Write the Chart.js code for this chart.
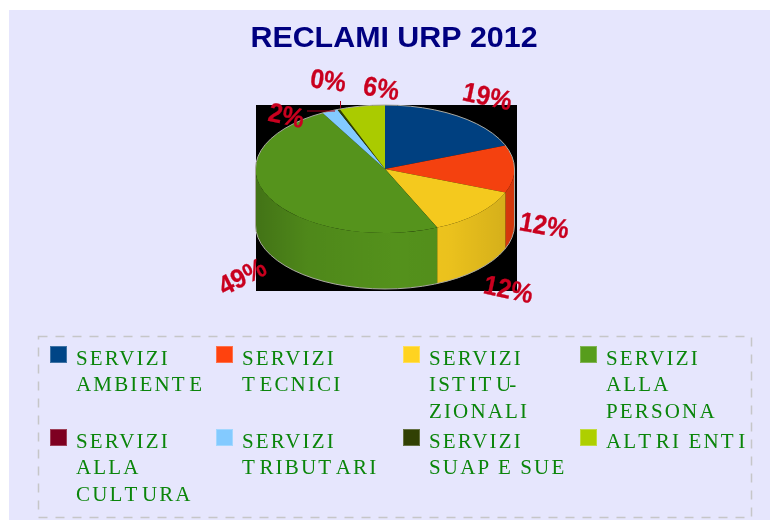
<!DOCTYPE html>
<html>
<head>
<meta charset="utf-8">
<title>RECLAMI URP 2012</title>
<script src="https://cdn.jsdelivr.net/npm/chart.js@4"></script>
<style>
  html, body { margin: 0; height: 100%; background: #fff; overflow: hidden; }
  #stage { position: absolute; left: 9px; top: 10px; width: 761px; height: 510px; background: #e6e6fd; overflow: hidden; }
  #stage canvas { position: absolute; left: 0; top: 0; }
  .swatch { position: absolute; width: 17px; height: 17px; box-sizing: border-box; border: 1px solid rgba(255,255,255,.25); }
  .entry { position: absolute; font: 21px/26.3px "Liberation Serif", serif; letter-spacing: 2.15px; color: #0a850a; white-space: pre; }
  .entry .wide { letter-spacing: 4.6px; }
  .entry .tight { letter-spacing: -2px; }
</style>
</head>
<body>
<div id="stage"><canvas id="pie" width="770" height="510"></canvas></div>
<script>
const titleText = "RECLAMI URP 2012";

const categories = [
  ["SERVIZI", "AMBIENTE"],
  ["SERVIZI", "TECNICI"],
  ["SERVIZI", "ISTITU-", "ZIONALI"],
  ["SERVIZI", "ALLA", "PERSONA"],
  ["SERVIZI", "ALLA", "CULTURA"],
  ["SERVIZI", "TRIBUTARI"],
  ["SERVIZI", "SUAP E SUE"],
  ["ALTRI ENTI"]
];
const shares = [19, 12, 12.4, 48.6, 0, 2, 0.3, 5.7];

//legend keeps the plain colours, the pie top is a touch darker
const legendColors = ["#004586", "#ff420e", "#ffd320", "#579d1c", "#7e0021", "#83caff", "#314004", "#aecf00"];
const sliceColors = ["#004080", "#f4410f", "#f4c91e", "#55931c", "#7e0021", "#83caff", "#314004", "#aacb00"];

// page pixels, label centre and tilt for each slice (no label on the empty one)
const labelSpots = [
  [487, 98, 12], [544, 227, 10], [508, 291, 12], [243, 278, -27],
  null, [286, 117, 12], [328, 82, 8], [381, 90, 10]
];
const leaders = [[307, 111, 335, 111], [340.5, 101, 340.5, 108]];

const legendColumns = [50, 216, 403, 580];
const legendRows = [346, 429];

const stageX = 9, stageY = 10;
const pieX = 385, pieY = 169, pieA = 129.5, pieB = 64, pieDepth = 56;

const toStage = (ctx) => ctx.translate(-stageX, -stageY);

const wallPath = (ctx, start, end) => {
  ctx.beginPath();
  ctx.ellipse(pieX, pieY, pieA, pieB, 0, start, end);
  ctx.ellipse(pieX, pieY + pieDepth, pieA, pieB, 0, end, start, true);
  ctx.closePath();
};

const pie3d = {
  id: "pie3d",
  beforeDatasetsDraw(chart) {
    const ctx = chart.ctx;
    ctx.save();
    toStage(ctx);

    // frame of the legend
    ctx.strokeStyle = "#c6c6c8";
    ctx.lineWidth = 1.5;
    ctx.setLineDash([9, 8]);
    ctx.strokeRect(38.5, 336.5, 713, 181);
    ctx.setLineDash([]);

    // black picture behind the pie
    ctx.fillStyle = "#000";
    ctx.fillRect(256, 105, 261, 186);

    // side walls, only the front half of each slice shows
    const arcs = chart.getDatasetMeta(0).data;
    const shade = ctx.createLinearGradient(pieX - pieA, 0, pieX + pieA, 0);
    shade.addColorStop(0, "rgba(0,0,0,.22)");
    shade.addColorStop(0.2, "rgba(0,0,0,.08)");
    shade.addColorStop(0.55, "rgba(0,0,0,.01)");
    shade.addColorStop(0.75, "rgba(0,0,0,.04)");
    shade.addColorStop(1, "rgba(0,0,0,.14)");
    arcs.forEach((arc, i) => {
      const start = Math.max(arc.startAngle, 0);
      const end = Math.min(arc.endAngle, Math.PI);
      if (end <= start) return;
      wallPath(ctx, start, end);
      ctx.fillStyle = sliceColors[i];
      ctx.fill();
      ctx.fillStyle = shade;
      ctx.fill();
    });
    ctx.restore();
  },
  beforeDatasetDraw(chart) {
    const ctx = chart.ctx;
    const arc = chart.getDatasetMeta(0).data[0];
    ctx.save();
    toStage(ctx);
    ctx.translate(pieX, pieY);
    ctx.scale(1, pieB / pieA);
    ctx.translate(-arc.x, -arc.y);
  },
  afterDatasetDraw(chart) {
    chart.ctx.restore();
  },
  afterDatasetsDraw(chart) {
    const ctx = chart.ctx;
    ctx.save();
    toStage(ctx);

    // pale rim round the whole shape
    ctx.strokeStyle = "#a9a9a0";
    ctx.lineWidth = 1;
    ctx.beginPath();
    ctx.ellipse(pieX, pieY, pieA, pieB, 0, Math.PI, Math.PI * 2);
    ctx.ellipse(pieX, pieY + pieDepth, pieA, pieB, 0, 0, Math.PI);
    ctx.closePath();
    ctx.stroke();

    ctx.strokeStyle = "#a8001c";
    leaders.forEach((l) => {
      ctx.beginPath();
      ctx.moveTo(l[0], l[1]);
      ctx.lineTo(l[2], l[3]);
      ctx.stroke();
    });

    ctx.fillStyle = "#c9001f";
    ctx.strokeStyle = "#c9001f";
    ctx.lineWidth = 0.3;
    ctx.font = 'bold 27px "Liberation Sans", sans-serif';
    ctx.textAlign = "center";
    ctx.textBaseline = "middle";
    shares.forEach((share, i) => {
      const spot = labelSpots[i];
      if (!spot) return;
      ctx.save();
      ctx.translate(spot[0], spot[1]);
      ctx.rotate(spot[2] * Math.PI / 180);
      ctx.scale(0.92, 1);
      ctx.fillText(Math.round(share) + "%", 0, 0);
      ctx.strokeText(Math.round(share) + "%", 0, 0);
      ctx.restore();
    });
    ctx.restore();
  }
};

new Chart(document.querySelector("#pie"), {
  type: "pie",
  plugins: [pie3d],
  data: {
    labels: categories.map((lines) => lines.join(" ")),
    datasets: [{
      data: shares,
      backgroundColor: sliceColors,
      borderWidth: 0,
      clip: false
    }]
  },
  options: {
    responsive: false,
    animation: false,
    radius: pieA,
    plugins: {
      legend: { display: false },
      tooltip: { enabled: false },
      title: {
        display: true,
        text: titleText,
        color: "#000080",
        font: { family: '"Liberation Sans", sans-serif', size: 30.4, weight: "bold" },
        padding: { top: 10.5, bottom: 0 }
      }
    }
  }
});

// legend goes in the page, the chart legend can't wrap like this
const stage = document.querySelector("#stage");
categories.forEach((lines, i) => {
  const left = legendColumns[i % 4] - stageX;
  const top = legendRows[Math.floor(i / 4)] - stageY;
  const swatch = document.createElement("div");
  swatch.className = "swatch";
  swatch.style.left = left + "px";
  swatch.style.top = top + "px";
  swatch.style.background = legendColors[i];
  stage.appendChild(swatch);
  const entry = document.createElement("div");
  entry.className = "entry";
  entry.style.left = left + 26 + "px";
  entry.style.top = top - 1 + "px";
  // the source spaces out every T and tucks the hyphen in
  entry.innerHTML = lines.join("\n")
    .replace(/T/g, '<span class="wide">T</span>')
    .replace(/U-/g, '<span class="tight">U</span>-');
  stage.appendChild(entry);
});
</script>
</body>
</html>
